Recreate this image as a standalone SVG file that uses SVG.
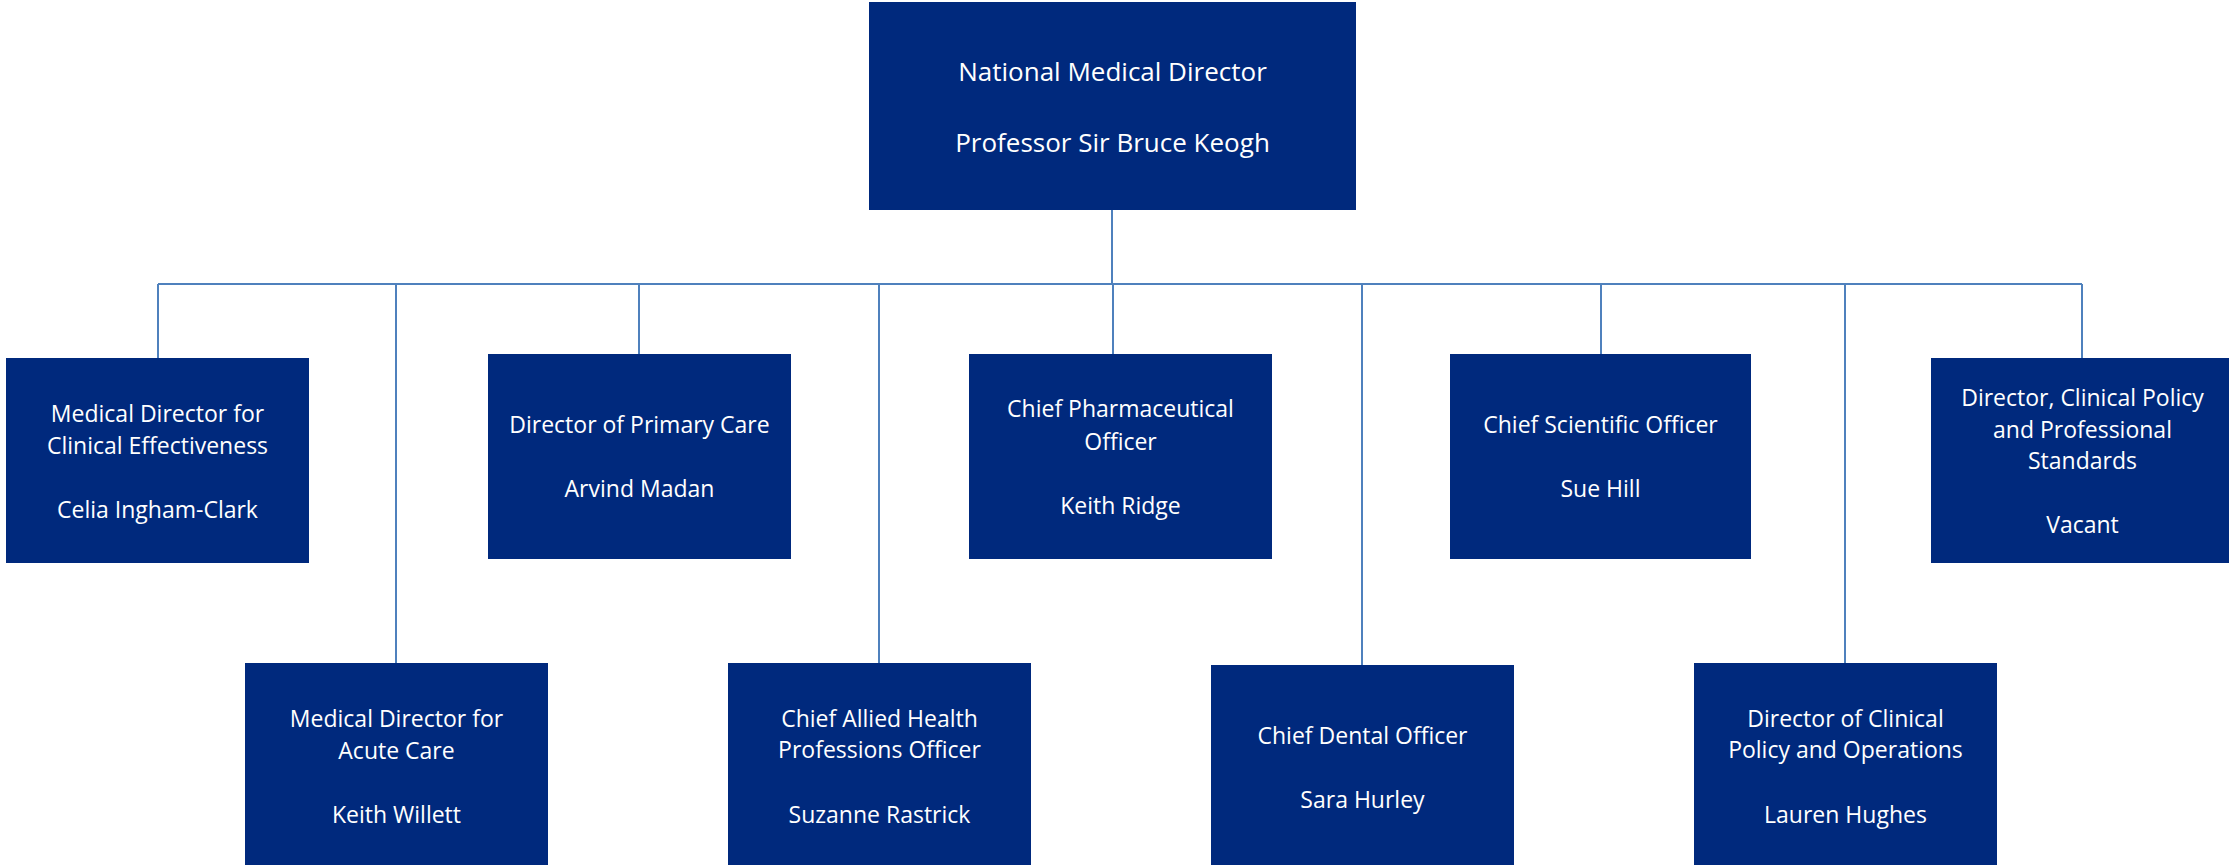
<svg xmlns="http://www.w3.org/2000/svg" width="2229" height="865" viewBox="0 0 2229 865">
<style>
.box{fill:#00297D;}
.t{font-family:"Open Sans","Noto Sans",sans-serif;font-size:23px;fill:#FFFFFF;text-anchor:middle;}
.big{font-size:26px;}
.c{stroke:#4F81BD;stroke-width:2;fill:none;}
</style>
<rect width="2229" height="865" fill="#FFFFFF"/>
<g id="connectors">
<path class="c" d="M1112 210V284M158 284H2082M158 284V358M396 284V663M639 284V354M879 284V663M1113 284V354M1362 284V665M1601 284V354M1845 284V663M2082 284V358"/>
</g>
<g id="n-top">
<rect class="box" x="869" y="2" width="487" height="208"/>
<text class="t big" x="1112.5" y="81">National Medical Director</text>
<text class="t big" x="1112.5" y="152">Professor Sir Bruce Keogh</text>
</g>
<g id="n-clinical-effectiveness">
<rect class="box" x="6" y="358" width="303" height="205"/>
<text class="t" x="157.5" y="422">Medical Director for</text>
<text class="t" x="157.5" y="454">Clinical Effectiveness</text>
<text class="t" x="157.5" y="518">Celia Ingham-Clark</text>
</g>
<g id="n-primary-care">
<rect class="box" x="488" y="354" width="303" height="205"/>
<text class="t" x="639.5" y="433">Director of Primary Care</text>
<text class="t" x="639.5" y="497">Arvind Madan</text>
</g>
<g id="n-pharma">
<rect class="box" x="969" y="354" width="303" height="205"/>
<text class="t" x="1120.5" y="417">Chief Pharmaceutical</text>
<text class="t" x="1120.5" y="450">Officer</text>
<text class="t" x="1120.5" y="514">Keith Ridge</text>
</g>
<g id="n-scientific">
<rect class="box" x="1450" y="354" width="301" height="205"/>
<text class="t" x="1600.5" y="433">Chief Scientific Officer</text>
<text class="t" x="1600.5" y="497">Sue Hill</text>
</g>
<g id="n-policy-standards">
<rect class="box" x="1931" y="358" width="303" height="205"/>
<text class="t" x="2082.5" y="406">Director, Clinical Policy</text>
<text class="t" x="2082.5" y="438">and Professional</text>
<text class="t" x="2082.5" y="469">Standards</text>
<text class="t" x="2082.5" y="533">Vacant</text>
</g>
<g id="n-acute-care">
<rect class="box" x="245" y="663" width="303" height="205"/>
<text class="t" x="396.5" y="727">Medical Director for</text>
<text class="t" x="396.5" y="759">Acute Care</text>
<text class="t" x="396.5" y="823">Keith Willett</text>
</g>
<g id="n-allied-health">
<rect class="box" x="728" y="663" width="303" height="205"/>
<text class="t" x="879.5" y="727">Chief Allied Health</text>
<text class="t" x="879.5" y="758">Professions Officer</text>
<text class="t" x="879.5" y="823">Suzanne Rastrick</text>
</g>
<g id="n-dental">
<rect class="box" x="1211" y="665" width="303" height="205"/>
<text class="t" x="1362.5" y="744">Chief Dental Officer</text>
<text class="t" x="1362.5" y="808">Sara Hurley</text>
</g>
<g id="n-clinical-policy-ops">
<rect class="box" x="1694" y="663" width="303" height="205"/>
<text class="t" x="1845.5" y="727">Director of Clinical</text>
<text class="t" x="1845.5" y="758">Policy and Operations</text>
<text class="t" x="1845.5" y="823">Lauren Hughes</text>
</g>
</svg>
